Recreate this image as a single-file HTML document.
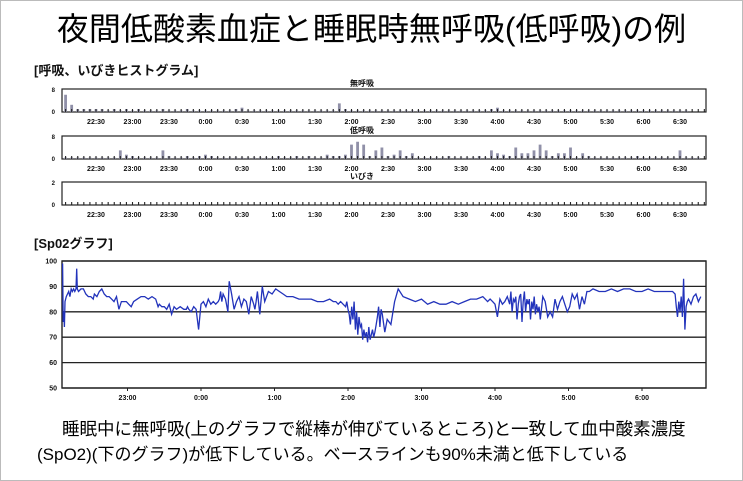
<!DOCTYPE html>
<html><head><meta charset="utf-8">
<style>
html,body{margin:0;padding:0;background:#fff;}
body{width:743px;height:481px;overflow:hidden;font-family:"Liberation Sans","Noto Sans CJK JP",sans-serif;}
#frame{position:absolute;left:0;top:0;width:741px;height:479px;border:1px solid #bbb;}
.t{position:absolute;white-space:nowrap;color:#000;}
</style></head><body>
<div id="frame"></div>
<div class="t" style="left:0;width:743px;text-align:center;top:4px;font-size:32px;">夜間低酸素血症と睡眠時無呼吸(低呼吸)の例</div>
<div class="t" style="left:62px;top:416px;font-size:17.5px;">睡眠中に無呼吸(上のグラフで縦棒が伸びているところ)と一致して血中酸素濃度</div>
<div class="t" style="left:37px;top:440px;font-size:17px;">(SpO2)(下のグラフ)が低下している。ベースラインも90%未満と低下している</div>
<svg id="chart" width="743" height="481" style="position:absolute;left:0;top:0" font-family="Liberation Sans, Noto Sans CJK JP, sans-serif"></svg>
<script>
// Histogram data: 5-min bins, bin centre = 22:05 + 5*i (minutes after 22:00)
const binStart = 5;
const apneaCounts = [6,2.5,1,1,1,1,1,0.5,1,0.5,1,0.5,1,0.5,0.5,0.5,1,0.5,0.5,0.5,1,0.5,0.5,0.5,0.5,0.5,0.5,0.5,1,1.5,0.5,0.5,0.5,0.5,0.5,0.5,0.5,0.5,0.5,0.5,0.5,0.5,0.5,0.5,0.5,3,1,0.5,0.5,0.5,0.5,0.5,0.5,0.5,0.5,0.5,0.5,0.5,0.5,0.5,0.5,0.5,0.5,0.5,0.5,0.5,0.5,0.5,0.5,0.5,1,1.5,0.5,0.5,0.5,0.5,0.5,0.5,0.5,0.5,0.5,0.5,0.5,0.5,0.5,0.5,0.5,0.5,0.5,0.5,0.5,0.5,0.5,0.5,0.5,0.5,0.5,0.5,0.5,0.5,0.5,0.5,0.5];
const hypopneaCounts = [0.5,0.5,0.5,0.5,0.5,0.5,0.5,0.5,0.5,3,1.5,1,0.5,0.5,0.5,0.5,3,1,0.5,0.5,1,0.5,1,1.5,1,0.5,0.5,0.5,0.5,0.5,0.5,0.5,0.5,0.5,0.5,1,0.5,0.5,1,0.5,1,0.5,0.5,1.5,1,1,1.5,5,6,5,1,3,4,1,1.5,3,1,2,0.5,0.5,0.5,0.5,0.5,1,0.5,0.5,0.5,0.5,1,0.5,3,2,1.5,1,4,2,2,3,5,3,1,2,2,4,0.5,2,1,0.5,0.5,0.5,0.5,0.5,0.5,0.5,1,0.5,0.5,0.5,0.5,0.5,0.5,3,0.5,0.5,0.5,0.5,0.5];
const snoreCounts = [];
const histTickLabels = ["22:30","23:00","23:30","0:00","0:30","1:00","1:30","2:00","2:30","3:00","3:30","4:00","4:30","5:00","5:30","6:00","6:30"];
const histTickMinutes = [30,60,90,120,150,180,210,240,270,300,330,360,390,420,450,480,510];
// SpO2 trace: minutes after 22:00, value %
const spo2Times = [7,7.5,8,8.5,9,10,11,12,13,14,15,16,17,18,18.5,19,20,22,24,26,28,30,32,33,35,37,39,41,43,45,47,49,51,53,55,57,59,61,63,65,68,71,74,77,80,83,85,86,88,90,92,94,96,98,100,103,106,108,109,110,112,114,116,118,120,122,124,126,128,130,132,134,135,136,137,138,140,142,143,145,147,149,151,153,155,157,159,161,163,164,165,166,168,170,172,175,178,181,184,187,190,195,200,205,210,215,220,225,228,230,232,234,236,238,239,240,241,242,243,244,245,246,247,248,249,250,251,252,253,254,255,256,257,258,259,260,261,262,263,264,265,266,267,268,270,272,275,278,281,285,290,295,300,305,310,315,320,325,330,335,340,345,350,352,354,356,358,360,362,364,366,368,370,372,373,374,375,376,377,378,379,380,381,382,383,384,385,386,387,388,389,390,391,392,393,394,395,396,397,399,401,403,405,407,409,411,413,415,417,419,421,423,425,427,429,431,433,435,437,440,445,450,455,460,465,470,475,480,485,490,495,500,505,507,508,509,510,511,512,513,514,515,516,517,518,520,522,524,526,528,530,531];
const spo2Values = [99,76,80,74,84,86,87,88,86,89,88,89,88,89,97,89,88,89,89,87,86,86,85,87,86,88,89,87,86,86,85,84,86,81,84,84,84,83,82,84,85,86,86,85,86,85,82,83,82,82,81,83,79,82,81,82,81,81,82,81,80,82,81,73,83,84,82,85,83,84,83,84,85,88,84,87,85,80,92,87,81,84,86,82,85,84,79,86,83,81,84,88,79,90,84,88,87,89,88,87,86,86,85,85,85,84,84,85,84,84,83,84,83,82,84,81,79,75,82,77,84,73,80,71,78,74,75,69,73,70,72,68,74,69,71,73,70,72,75,78,82,74,81,79,72,77,75,84,89,86,85,84,85,83,84,83,83,84,83,84,85,85,86,85,84,85,84,83,78,85,83,84,86,83,88,80,85,84,86,77,83,86,87,76,84,88,80,85,83,85,77,84,81,86,79,83,80,82,77,86,84,78,80,78,85,81,84,86,83,80,82,87,85,87,81,86,83,88,88,89,88,88,89,88,89,89,88,88,89,88,88,88,88,87,82,78,84,80,86,78,93,73,82,84,85,83,86,87,84,86];
const spo2Ticks = [50,60,70,80,90,100];
const spo2TimeLabels = ["23:00","0:00","1:00","2:00","3:00","4:00","5:00","6:00"];
const spo2TimeMinutes = [60,120,180,240,300,360,420,480];

const svg = document.getElementById('chart');
const NS = 'http://www.w3.org/2000/svg';
function mk(tag, attrs, parent){const e=document.createElementNS(NS,tag);for(const k in attrs)e.setAttribute(k,attrs[k]);(parent||svg).appendChild(e);return e;}
function txt(x,y,s,size,anchor,weight){const e=mk('text',{x:x,y:y,'font-size':size,'text-anchor':anchor||'start','font-weight':weight||'normal',fill:'#111'});e.textContent=s;return e;}

let sl=txt(34,75,'[呼吸、いびきヒストグラム]',13,'start','bold');


let sl2=txt(34,248,'[Sp02グラフ]',13,'start','bold');



const hx = m => 59.5 + m*73/60;
const panels = [
  {name:'apnea',title:'無呼吸',top:89,bottom:112,max:8,data:apneaCounts},
  {name:'hypopnea',title:'低呼吸',top:136,bottom:159,max:8,data:hypopneaCounts},
  {name:'snore',title:'いびき',top:182,bottom:205,max:2,data:snoreCounts}
];
panels.forEach(p=>{
  const g=mk('g',{});
  
  
  const r=mk('rect',{x:62,y:p.top,width:644,height:p.bottom-p.top,fill:'none',stroke:'#222','stroke-width':1.2},g);
  
  
  const tt=txt(362,p.top-3,p.title,8,'middle','bold');
  
  
  g.appendChild(tt);
  const ym=txt(55,p.top+3,String(p.max),6,'end','bold');g.appendChild(ym);
  
  
  const y0=txt(55,p.bottom+2,'0',6,'end','bold');g.appendChild(y0);
  
  
  const sc=(p.bottom-p.top)/p.max;
  p.data.forEach((v,i)=>{
    const x=hx(binStart+5*i);
    if(x>704) return;
    const b=mk('rect',{x:x-1.4,y:p.bottom-v*sc,width:2.8,height:v*sc,fill:'#9090a8'},g);
    
    
  });
  for(let m=5;m<=530;m+=5){
    const x=hx(m); if(x>705)break;
    const tk=mk('line',{x1:x,x2:x,y1:p.bottom-3,y2:p.bottom+0.5,stroke:'#222','stroke-width':1.1},g);
    
    
  }
  histTickLabels.forEach((s,i)=>{
    const l=txt(hx(histTickMinutes[i]),p.bottom+12,s,7,'middle','bold');g.appendChild(l);
    
    
  });
});

const sx = m => 54 + m*73.5/60;
const sy = v => 388 - (v-50)*127/50;
const sg=mk('g',{});


spo2Ticks.forEach(v=>{
  const gl=mk('line',{x1:62,x2:706,y1:sy(v),y2:sy(v),stroke:'#222','stroke-width':1.3},sg);
  
  
  const l=txt(57,sy(v)+2.5,String(v),7,'end','bold');sg.appendChild(l);
  
  
});
const fr=mk('rect',{x:62,y:sy(100),width:644,height:sy(50)-sy(100),fill:'none',stroke:'#222','stroke-width':1.4},sg);


spo2TimeLabels.forEach((s,i)=>{
  const x=sx(spo2TimeMinutes[i]);
  const tk=mk('line',{x1:x,x2:x,y1:388,y2:391,stroke:'#222'},sg);
  
  
  const l=txt(x,400,s,7,'middle','bold');sg.appendChild(l);
  
  
});
const pts=spo2Times.map((t,i)=>sx(t).toFixed(1)+','+sy(spo2Values[i]).toFixed(1)).join(' ');
const line=mk('polyline',{points:pts,fill:'none',stroke:'#2233bb','stroke-width':1.3},sg);


</script>
</body></html>
